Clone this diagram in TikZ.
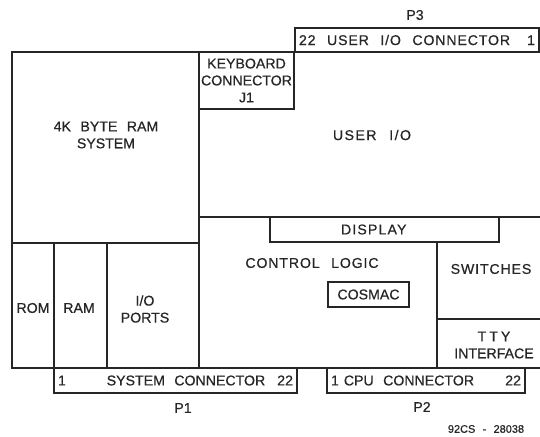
\documentclass[tikz,border=0pt]{standalone}
\usepackage{fontspec}
\setmainfont[WordSpace=2.4, FakeBold=0.6]{Liberation Sans}
\begin{document}
\begin{tikzpicture}[x=1bp, y=-1bp,
frameline/.style={draw=black!85, line width=1.2bp},
boxnode/.style={rectangle, draw=black!85, line width=1.2bp, inner sep=0pt, text=black!85, font=\fontsize{14.2}{17}\selectfont, align=center},
textnode/.style={inner sep=0pt, text=black!85, font=\fontsize{14.2}{17}\selectfont, align=center},
spread/.style={font=\fontsize{14.2}{17}\selectfont\addfontfeature{LetterSpace=#1}},
]
\useasboundingbox (0,0) rectangle (540,437);

% board outline and dividers
\draw[frameline] (12,52) rectangle (541,368);
\draw[frameline] (199,52) -- (199,368);
\draw[frameline] (12,243) -- (199,243);
\draw[frameline] (54,243) -- (54,368);
\draw[frameline] (107,243) -- (107,368);
\draw[frameline] (199,217) -- (541,217);
\draw[frameline] (437,242) -- (437,368);
\draw[frameline] (437,319) -- (541,319);

% boxed blocks
\node[boxnode, minimum width=95bp, minimum height=57bp] at (246.5,80.5) (Keyboard) {KEYBOARD\\CONNECTOR\\J1};
\node[boxnode, spread=8, minimum width=229bp, minimum height=25bp] at (384.5,229.5) (Display) {\makebox[225bp][l]{\hspace{69bp}DISPLAY}};
\node[boxnode, minimum width=81bp, minimum height=25bp] at (368.5,294.5) (Cosmac) {COSMAC};
\node[boxnode, spread=6, minimum width=244bp, minimum height=24bp] at (417,40) (UserConn) {\makebox[236bp]{22 USER I/O CONNECTOR\hfill 1}};
\node[boxnode, minimum width=243bp, minimum height=25bp] at (175.5,380.5) (SysConn) {\makebox[235bp]{1\hfill SYSTEM CONNECTOR\hspace{12bp}22}};
\node[boxnode, minimum width=198bp, minimum height=25bp] at (426,380.5) (CpuConn) {\makebox[190bp]{1\hspace{5bp}CPU CONNECTOR\hfill 22}};

% region labels
\node[textnode] at (106,135) (RamSys) {4K BYTE RAM\\SYSTEM};
\node[textnode, spread=10] at (372,135) (UserIO) {USER I/O};
\node[textnode, spread=6] at (312,263) (CtrlLogic) {CONTROL LOGIC};
\node[textnode, spread=6] at (491,269) (Switches) {SWITCHES};
\node[textnode] at (494,345) (Tty) {T\hspace{3bp}T\hspace{3bp}Y\\INTERFACE};
\node[textnode] at (33,308) (Rom) {ROM};
\node[textnode] at (79,308) (Ram) {RAM};
\node[textnode] at (145,309) (IOPorts) {I/O\\PORTS};

% plug names
\node[textnode] at (415,15) (P3) {P3};
\node[textnode] at (183,408) (P1) {P1};
\node[textnode] at (422,407) (P2) {P2};
\node[textnode, font=\fontsize{11}{13}\selectfont] at (486,429) (DwgNo) {92CS - 28038};

\end{tikzpicture}
\end{document}
